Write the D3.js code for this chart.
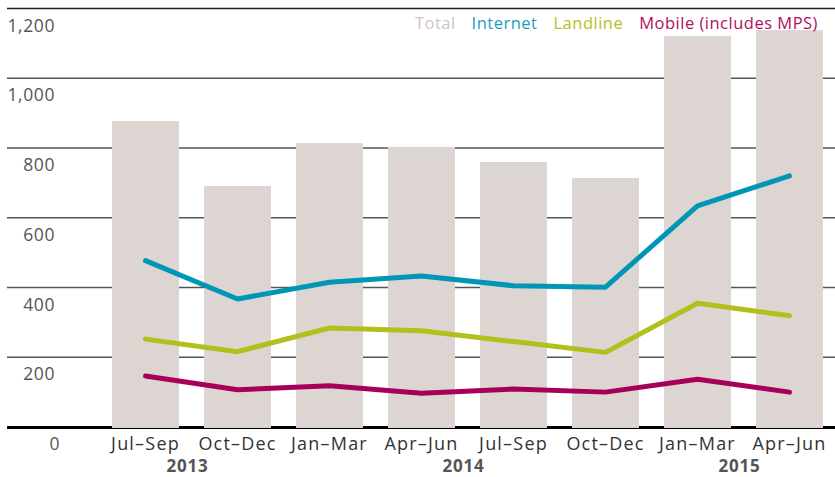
<!DOCTYPE html>
<html>
<head>
<meta charset="utf-8">
<script src="https://cdn.jsdelivr.net/npm/d3@7"></script>
<style>
  body { margin: 0; background: #fff; }
  svg { display: block; font-family: "Open Sans", sans-serif; }
</style>
</head>
<body>
<div id="chart"></div>
<script>
// 분기 라벨과 연도
var quarters = ["Jul–Sep", "Oct–Dec", "Jan–Mar", "Apr–Jun", "Jul–Sep", "Oct–Dec", "Jan–Mar", "Apr–Jun"];
var years = [
  { label: "2013", from: 0, to: 1 },
  { label: "2014", from: 2, to: 5 },
  { label: "2015", from: 6, to: 7 }
];

// 시리즈 값
var total = [877, 691, 814, 803, 760, 714, 1121, 1138];
var internet = [477, 367, 415, 433, 405, 401, 634, 720];
var landline = [252, 216, 284, 276, 245, 214, 355, 319];
var mobile = [146, 107, 118, 97, 109, 100, 137, 100];

var yTicks = [0, 200, 400, 600, 800, 1000, 1200];

var width = 835, height = 477;

var svg = d3.select("#chart")
    .append("svg")
    .attr("width", width)
    .attr("height", height);

var x = d3.scaleBand()
    .domain(d3.range(quarters.length))
    .range([99.5, 835.5])
    .paddingInner(25 / 92)
    .paddingOuter(12.5 / 92);

var y = d3.scaleLinear()
    .domain([0, 1200])
    .range([427, 8.5]);

// 격자선
svg.append("g")
    .selectAll("line")
    .data(yTicks.filter(function (d) { return d > 0; }))
    .enter()
    .append("line")
    .attr("x1", 7)
    .attr("x2", width)
    .attr("y1", function (d) { return y(d); })
    .attr("y2", function (d) { return y(d); })
    .attr("stroke", function (d) { return d === 1200 ? "#222" : "#555"; })
    .attr("stroke-width", 1.5);

// 기준선
svg.append("line")
    .attr("x1", 7)
    .attr("x2", width)
    .attr("y1", y(0) + 0.5)
    .attr("y2", y(0) + 0.5)
    .attr("stroke", "#000")
    .attr("stroke-width", 3);

// y축 라벨
svg.append("g")
    .selectAll("text")
    .data(yTicks)
    .enter()
    .append("text")
    .attr("x", function (d) { return d === 0 ? 60 : 55; })
    .attr("y", function (d) { return y(d) + 23; })
    .attr("text-anchor", "end")
    .attr("fill", "#555")
    .attr("font-size", 17.5)
    .attr("letter-spacing", 0.6)
    .text(function (d) { return d3.format(",")(d); });

// 막대 (Total)
svg.append("g")
    .selectAll("rect")
    .data(total)
    .enter()
    .append("rect")
    .attr("x", function (d, i) { return x(i); })
    .attr("y", function (d) { return y(d); })
    .attr("width", x.bandwidth())
    .attr("height", function (d) { return y(0) + 1 - y(d); })
    .attr("fill", "#ddd5d2");

// 선 그리기
var line = d3.line()
    .x(function (d, i) { return x(i) + x.bandwidth() / 2; })
    .y(function (d) { return y(d); });

var series = [
  { values: internet, color: "#0096b5" },
  { values: landline, color: "#b3bf1b" },
  { values: mobile, color: "#a8005a" }
];

svg.append("g")
    .selectAll("path")
    .data(series)
    .enter()
    .append("path")
    .attr("d", function (d) { return line(d.values); })
    .attr("fill", "none")
    .attr("stroke", function (d) { return d.color; })
    .attr("stroke-width", 5)
    .attr("stroke-linecap", "round")
    .attr("stroke-linejoin", "round");

// x축 라벨
svg.append("g")
    .selectAll("text")
    .data(quarters)
    .enter()
    .append("text")
    .attr("x", function (d, i) { return x(i) + x.bandwidth() / 2; })
    .attr("y", 450)
    .attr("text-anchor", "middle")
    .attr("fill", "#333")
    .attr("font-size", 18)
    .attr("letter-spacing", 1.2)
    .text(function (d) { return d; });

svg.append("g")
    .selectAll("text")
    .data(years)
    .enter()
    .append("text")
    .attr("x", function (d) {
        return (x(d.from) + x(d.to) + x.bandwidth()) / 2 - 4;
    })
    .attr("y", 472)
    .attr("text-anchor", "middle")
    .attr("fill", "#555")
    .attr("font-size", 17)
    .attr("font-weight", "bold")
    .attr("letter-spacing", 0.8)
    .text(function (d) { return d.label; });

// 범례 (오른쪽 정렬)
var legendItems = [
  { label: "Total", color: "#cfc6c2" },
  { label: "Internet", color: "#1a9cc0" },
  { label: "Landline", color: "#b5c11a" },
  { label: "Mobile (includes MPS)", color: "#b0105e" }
];

var legend = svg.append("g");
var texts = legend.selectAll("text")
    .data(legendItems)
    .enter()
    .append("text")
    .attr("y", 29)
    .attr("fill", function (d) { return d.color; })
    .attr("font-size", 16.5)
    .attr("letter-spacing", 0.5)
    .text(function (d) { return d.label; });

var cursor = 818;
var nodes = texts.nodes();
for (var i = nodes.length - 1; i >= 0; i--) {
    var w = nodes[i].getComputedTextLength();
    cursor -= w;
    d3.select(nodes[i]).attr("x", cursor);
    cursor -= 16;
}
</script>
</body>
</html>
